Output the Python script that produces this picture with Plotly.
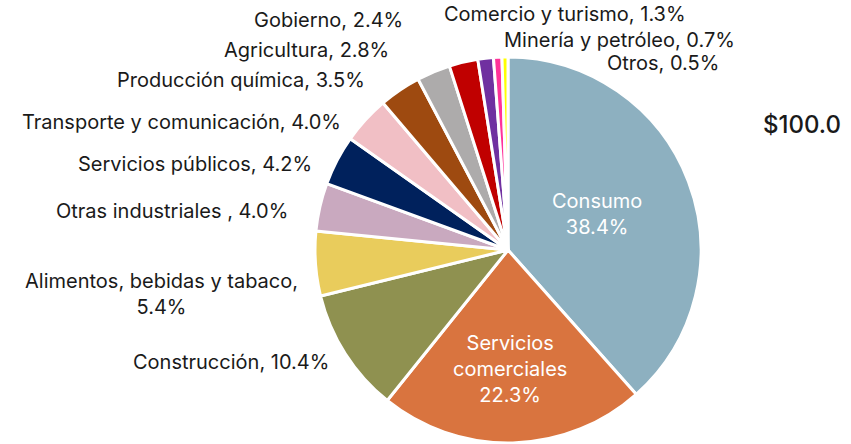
import plotly.graph_objects as go

# sector shares (%), clockwise from 12 o'clock
sectors = ["Consumo", "Servicios comerciales", "Construcción", "Alimentos, bebidas y tabaco",
           "Otras industriales ", "Servicios públicos", "Transporte y comunicación",
           "Producción química", "Agricultura", "Gobierno", "Comercio y turismo",
           "Minería y petróleo", "Otros"]
shares = [38.4, 22.3, 10.4, 5.4, 4.0, 4.2, 4.0, 3.5, 2.8, 2.4, 1.3, 0.7, 0.5]
colors = ["#8DB0C0", "#D9743F", "#8F9150", "#E9CC5C", "#C9A9BF", "#00215C", "#F1BFC5",
          "#9E4A10", "#ADABAB", "#C00000", "#7030A0", "#FF3399", "#FFFF00"]
total_label = "$100.0"

W, H = 851, 444
FONT = "Inter"

fig = go.Figure(go.Pie(
    labels=sectors, values=shares, sort=False, direction="clockwise", rotation=0,
    marker=dict(colors=colors, line=dict(color="white", width=3)),
    textinfo="none", hoverinfo="label+percent", showlegend=False,
    domain=dict(x=[315 / W, 701 / W], y=[1 - 443 / H, 1 - 57 / H]),
))

# label placement (pixel anchor, xanchor, font colour)
place = {
    "Consumo": (597, 214, "center", "white"),
    "Servicios comerciales": (510, 369, "center", "white"),
    "Construcción": (331, 362, "right", "#1a1a1a"),
    "Alimentos, bebidas y tabaco": (300, 294, "right", "#1a1a1a"),
    "Otras industriales ": (290, 211, "right", "#1a1a1a"),
    "Servicios públicos": (314, 164, "right", "#1a1a1a"),
    "Transporte y comunicación": (343, 122, "right", "#1a1a1a"),
    "Producción química": (367, 80, "right", "#1a1a1a"),
    "Agricultura": (391, 50, "right", "#1a1a1a"),
    "Gobierno": (405, 20, "right", "#1a1a1a"),
    "Comercio y turismo": (442, 14, "left", "#1a1a1a"),
    "Minería y petróleo": (502, 40, "left", "#1a1a1a"),
    "Otros": (605, 63, "left", "#1a1a1a"),
}

for name, val in zip(sectors, shares):
    px, py, anchor, col = place[name]
    if name == "Consumo":
        txt = f"{name}<br>{val:.1f}%"
    elif name == "Servicios comerciales":
        txt = f"Servicios<br>comerciales<br>{val:.1f}%"
    elif name.startswith("Alimentos"):
        txt = f"{name},<br>{val:.1f}%"
    else:
        txt = f"{name}, {val:.1f}%"
    fig.add_annotation(x=px / W, y=1 - py / H, xref="paper", yref="paper",
                       text=txt, showarrow=False, xanchor=anchor, yanchor="middle",
                       align="center", font=dict(family=FONT, size=20, color=col))

fig.add_annotation(x=802 / W, y=1 - 124 / H, xref="paper", yref="paper", text=total_label,
                   showarrow=False, xanchor="center", yanchor="middle",
                   font=dict(family=FONT, size=24, color="#1a1a1a", weight=500))

fig.update_layout(width=W, height=H, margin=dict(l=0, r=0, t=0, b=0),
                  paper_bgcolor="white", plot_bgcolor="white",
                  font=dict(family=FONT, color="#1a1a1a"))

fig.write_html("out.html", config={"displayModeBar": False},
               post_script="document.body.style.margin='0';document.body.style.overflow='hidden';")
